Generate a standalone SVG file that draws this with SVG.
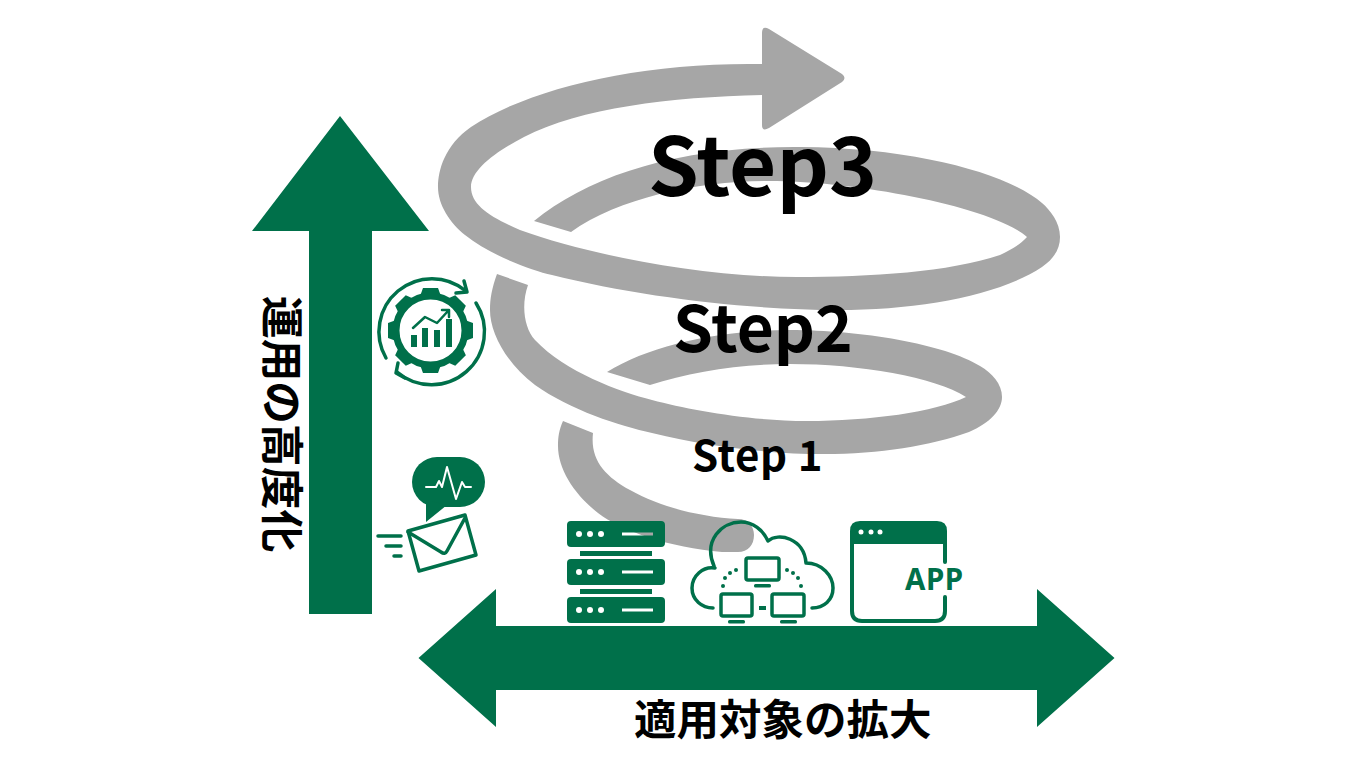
<svg xmlns="http://www.w3.org/2000/svg" width="1366" height="768" viewBox="0 0 1366 768">
<style>
.g{fill:#00704a}
.s{fill:#a6a6a6}
.o{fill:none;stroke:#00704a;stroke-width:3.5;stroke-linecap:round;stroke-linejoin:round}
.t{font-family:"Noto Sans CJK JP","Noto Sans",sans-serif;font-weight:700;fill:#000}
</style>
<rect width="1366" height="768" fill="#fff"/>
<g id="connectors">
<path id="spiral-bottom" class="s" d="M563 421 C559 430 558 437 558 446 C558 470 575 495 598 513 C620 530 670 548 722 552 L738 552 C748 552 754 545 754 535 C754 526 748 519 738 519 C700 517 660 507 630 490 C605 476 590 460 593 433 Z"/>
<path id="spiral-middle" class="s" d="M497 274 C492 288 490 298 490 310 C490 332 505 362 535 385 C570 410 620 426 652 433 C710 447 770 454 824 454 C880 454 930 446 969 432 C990 423 1002 410 1002 397 C1002 384 992 373 980 366 C945 344 860 330 790 330 C720 330 650 345 607 372 L650 385 C690 372 740 364 790 364 C860 364 935 377 966 397 C935 412 870 421 807 421 C750 421 690 410 652 400 C620 392 565 372 535 340 C524 328 521 305 528 285 Z"/>
<path id="spiral-top" class="s" d="M762 64 C640 62 530 88 471 127 C445 145 438 170 438 187 C438 205 450 223 465 235 C490 255 530 270 552 275 C640 297 750 310 838 310 C920 310 1000 295 1042 267 C1055 258 1060 248 1060 237 C1060 222 1050 210 1042 203 C1010 175 920 148 800 147 C680 146 590 175 534 221 L571 232 C620 197 700 181 770 181 C850 181 990 205 1027 237 C1020 245 1010 250 1000 255 C950 272 870 277 797 277 C700 277 590 255 520 230 C490 217 471 205 471 187 C471 170 495 152 524 137 C580 108 670 97 762 95 L762 125 Q762 132 769 128 L842 82 Q847 78 842 74 L769 29 Q762 25 762 33 Z"/>
<path id="arrow-vertical" class="g" d="M340 116 L429 231 H372 V614 H309 V231 H252 Z"/>
<path id="arrow-horizontal" class="g" d="M418.500 658 L496 589 V626 H1037 V589 L1114.500 658 L1037 727 V690 H496 V727 Z"/>
</g>
<g id="label-step3"><text class="t" x="648" y="196" font-size="81.500">Step3</text></g>
<g id="label-step2"><text class="t" x="673" y="352" font-size="64">Step2</text></g>
<g id="label-step1"><text class="t" x="692" y="471" font-size="42" letter-spacing="0.600">Step 1</text></g>
<g id="label-vertical"><text class="t" transform="translate(266 296) rotate(90)" font-size="42.700">運用の高度化</text></g>
<g id="label-horizontal"><text class="t" x="634" y="735" font-size="42.500">適用対象の拡大</text></g>
<g id="icon-gear">
<path class="o" d="M386 358 A53 53 0 0 1 466 291 M476 303 A53 53 0 0 1 397 372"/>
<path class="o" d="M464 281 L467 292 L456 293 M398 363 L396 373 L405 378"/>
<circle cx="430.500" cy="330.500" r="34.500" fill="none" stroke="#00704a" stroke-width="7"/>
<g class="g" id="teeth">
<path d="M423 288 H438 L442 299 H419 Z"/>
<path d="M423 288 H438 L442 299 H419 Z" transform="rotate(45 430.500 330.500)"/>
<path d="M423 288 H438 L442 299 H419 Z" transform="rotate(90 430.500 330.500)"/>
<path d="M423 288 H438 L442 299 H419 Z" transform="rotate(135 430.500 330.500)"/>
<path d="M423 288 H438 L442 299 H419 Z" transform="rotate(180 430.500 330.500)"/>
<path d="M423 288 H438 L442 299 H419 Z" transform="rotate(225 430.500 330.500)"/>
<path d="M423 288 H438 L442 299 H419 Z" transform="rotate(270 430.500 330.500)"/>
<path d="M423 288 H438 L442 299 H419 Z" transform="rotate(315 430.500 330.500)"/>
</g>
<rect class="g" x="411" y="335" width="6" height="12"/>
<rect class="g" x="422" y="328" width="6" height="19"/>
<rect class="g" x="434" y="330" width="6" height="17"/>
<rect class="g" x="446" y="319" width="6" height="28"/>
<path class="o" style="stroke-width:2.500" d="M413 328 L425 317 L437 323 L448 311 M442 310 H449 V317"/>
</g>
<g id="icon-message">
<rect class="g" x="412" y="457" width="73" height="50" rx="25"/>
<path class="g" d="M426 500 V522 L447 505 Z"/>
<path d="M426 487 H436 L439 481 L442 487 L447 467 L456 499 L462 482 L465 487 H471" fill="none" stroke="#fff" stroke-width="2" stroke-linejoin="round" stroke-linecap="round"/>
<path class="o" style="fill:#fff" d="M408 531 L465 515 L476 555 L419 571 Z"/>
<path class="o" d="M408 532 L441 552 Q445 555 447 551 L465 518"/>
<path class="o" d="M378 536 H401 M386 546 H401 M394 556 H401"/>
</g>
<g id="icon-server">
<path class="g" fill-rule="evenodd" d="M571 521 H661 Q665 521 665 525 V543 Q665 547 661 547 H571 Q567 547 567 543 V525 Q567 521 571 521 Z M622 532.500 V535.500 H653 V532.500 Z"/>
<circle cx="579" cy="534" r="3" fill="#fff"/><circle cx="590" cy="534" r="3" fill="#fff"/><circle cx="601" cy="534" r="3" fill="#fff"/>
<rect class="g" x="580" y="551" width="72" height="5"/>
<rect class="g" x="567" y="559" width="98" height="26" rx="4"/>
<circle cx="579" cy="572" r="3" fill="#fff"/><circle cx="590" cy="572" r="3" fill="#fff"/><circle cx="601" cy="572" r="3" fill="#fff"/>
<rect x="622" y="570.500" width="31" height="3" fill="#fff"/>
<rect class="g" x="580" y="589" width="72" height="5"/>
<rect class="g" x="567" y="597" width="98" height="26" rx="4"/>
<circle cx="579" cy="610" r="3" fill="#fff"/><circle cx="590" cy="610" r="3" fill="#fff"/><circle cx="601" cy="610" r="3" fill="#fff"/>
<rect x="622" y="608.500" width="31" height="3" fill="#fff"/>
</g>
<g id="icon-cloud">
<path class="o" d="M714 566 C703 540 722 522 741 522 C753 522 763 530 768 541 C778 532 804 538 806 563 C822 563 833 576 833 588 C833 600 824 608 812 608"/>
<path class="o" d="M715 568 C703 566 692 576 692 588 C692 600 702 608 713 608"/>
<rect class="o" x="746" y="558" width="33" height="22" rx="2"/>
<rect class="o" x="721" y="594" width="31" height="22" rx="2"/>
<rect class="o" x="772" y="594" width="32" height="22" rx="2"/>
<rect class="g" x="754" y="584" width="17" height="3.500" rx="1.500"/>
<rect class="g" x="728" y="620" width="17" height="3.500" rx="1.500"/>
<rect class="g" x="780" y="620" width="17" height="3.500" rx="1.500"/>
<rect class="g" x="759" y="606" width="7" height="4"/>
<g class="g"><circle cx="736" cy="570" r="2"/><circle cx="730" cy="573" r="2"/><circle cx="725" cy="578" r="2"/><circle cx="723" cy="586" r="2"/><circle cx="787" cy="570" r="2"/><circle cx="793" cy="573" r="2"/><circle cx="798" cy="578" r="2"/><circle cx="801" cy="586" r="2"/></g>
</g>
<g id="icon-app">
<path class="g" d="M860 521 H937 Q947 521 947 531 V544 H850 V531 Q850 521 860 521 Z"/>
<path class="o" style="stroke-width:4" d="M852 540 V611 Q852 621 862 621 H935 Q945 621 945 611 V597 M945 562 V540"/>
<circle cx="861" cy="532" r="2.500" fill="#fff"/><circle cx="871" cy="532" r="2.500" fill="#fff"/><circle cx="880" cy="532" r="2.500" fill="#fff"/>
<text x="905" y="590" font-family="'Noto Sans','Open Sans',sans-serif" font-weight="700" font-size="29.500" letter-spacing="0.500" fill="#00704a">APP</text>
</g>
</svg>
